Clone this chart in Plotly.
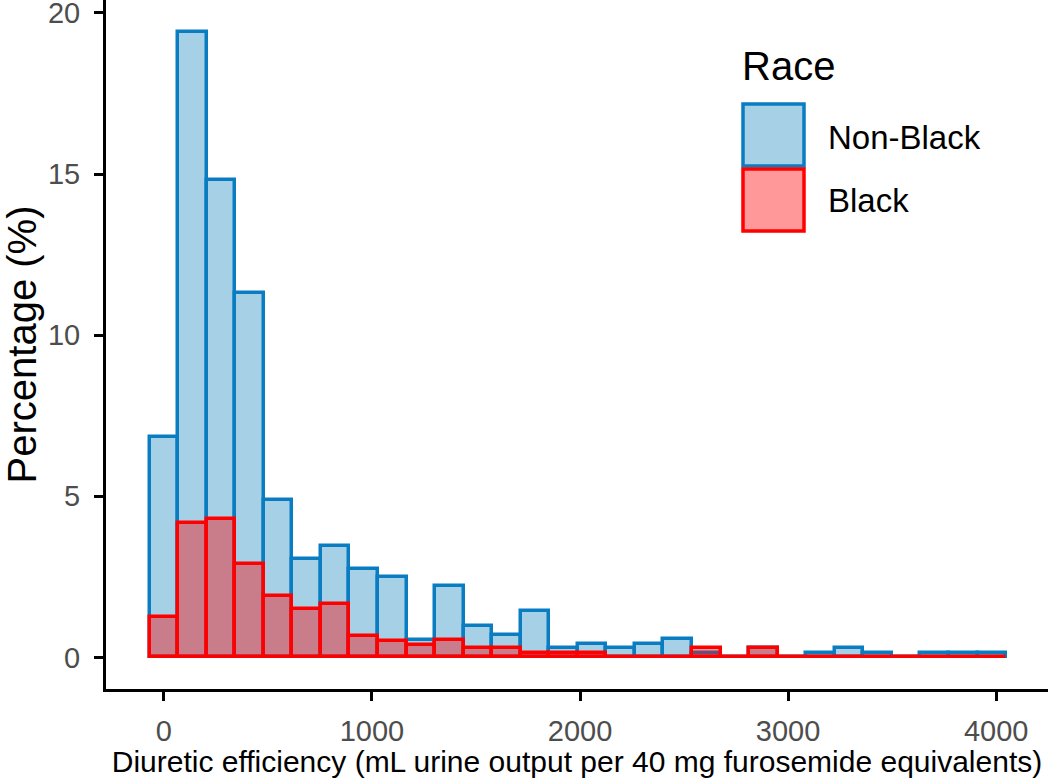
import plotly.graph_objects as go

# ---- data ----
bin_width = 137.2
bin_index = list(range(30))
non_black_pct = [6.83, 19.42, 14.8, 11.3, 4.88, 3.05, 3.47, 2.75, 2.5, 0.55,
                 2.22, 0.99, 0.71, 1.43, 0.29, 0.43, 0.29, 0.43, 0.58, 0.14,
                 0.0, 0.29, 0.0, 0.14, 0.29, 0.14, 0.0, 0.14, 0.14, 0.14]
black_pct = [1.25, 4.16, 4.30, 2.91, 1.91, 1.50, 1.66, 0.67, 0.52, 0.40,
             0.55, 0.29, 0.29, 0.14, 0.14, 0.14, 0.0, 0.0, 0.0, 0.29,
             0.0, 0.29, 0.0, 0.0, 0.0, 0.0, 0.0, 0.0, 0.0, 0.0]
x_ticks = [0, 1000, 2000, 3000, 4000]
y_ticks = [0, 5, 10, 15, 20]
legend_title = "Race"
groups = ["Non-Black", "Black"]

centers = [i * bin_width for i in bin_index]

FONT = "Liberation Sans, Arial, sans-serif"
BLUE_LINE = "#0a7dc2"
BLUE_FILL = "#a6d0e6"
RED_LINE = "#ff0000"
RED_FILL = "rgba(255,0,0,0.4)"
LW = 3.5

fig = go.Figure()
fig.add_trace(go.Bar(x=centers, y=non_black_pct, width=bin_width, name=groups[0],
                     marker=dict(color=BLUE_FILL, line=dict(color=BLUE_LINE, width=LW)),
                     showlegend=False))
fig.add_trace(go.Bar(x=centers, y=black_pct, width=bin_width, name=groups[1],
                     marker=dict(color=RED_FILL, line=dict(color=RED_LINE, width=LW)),
                     showlegend=False))

W, H = 1050, 778
L, R, T, B = 106, 2, 0, 89
pw, ph = W - L - R, H - T - B

def px(xp):
    return (xp - L) / pw

def py(yp):
    return (H - B - yp) / ph

# manual legend (large ggplot-style keys)
shapes = [
    dict(type="rect", xref="paper", yref="paper", x0=px(743), x1=px(804), y0=py(166), y1=py(104),
         fillcolor=BLUE_FILL, line=dict(color=BLUE_LINE, width=LW)),
    dict(type="rect", xref="paper", yref="paper", x0=px(743), x1=px(804), y0=py(231), y1=py(169),
         fillcolor="#ff9999", line=dict(color=RED_LINE, width=LW)),
]
annotations = [
    dict(text=legend_title, xref="paper", yref="paper", x=px(740), y=py(66), xanchor="left",
         yanchor="middle", showarrow=False, font=dict(family=FONT, size=40, color="black")),
    dict(text=groups[0], xref="paper", yref="paper", x=px(826), y=py(137), xanchor="left",
         yanchor="middle", showarrow=False, font=dict(family=FONT, size=33, color="black")),
    dict(text=groups[1], xref="paper", yref="paper", x=px(826), y=py(200), xanchor="left",
         yanchor="middle", showarrow=False, font=dict(family=FONT, size=33, color="black")),
]

fig.update_layout(
    width=W, height=H,
    barmode="overlay", bargap=0,
    plot_bgcolor="white", paper_bgcolor="white",
    margin=dict(l=L, r=R, t=T, b=B, autoexpand=False),
    font=dict(family=FONT),
    shapes=shapes, annotations=annotations,
    xaxis=dict(range=[-278, 4249], tickvals=x_ticks, ticktext=[str(v) for v in x_ticks],
               showgrid=False, zeroline=False, showline=True, linecolor="black", linewidth=3,
               ticks="outside", ticklen=9, tickwidth=3, tickcolor="black",
               tickfont=dict(family=FONT, size=29, color="#4d4d4d"),
               ticklabelstandoff=5,
               title=dict(text="Diuretic efficiency (mL urine output per 40 mg furosemide equivalents)",
                          font=dict(family=FONT, size=30, color="black"), standoff=7),
               automargin=False),
    yaxis=dict(range=[-0.98, 20.4], tickvals=y_ticks, ticktext=[str(v) for v in y_ticks],
               showgrid=False, zeroline=False, showline=True, linecolor="black", linewidth=3,
               ticks="outside", ticklen=9, tickwidth=3, tickcolor="black",
               tickfont=dict(family=FONT, size=29, color="#4d4d4d"),
               ticklabelstandoff=8, ticklabeloverflow="allow",
               title=dict(text="Percentage (%)", font=dict(family=FONT, size=40, color="black"),
                          standoff=6),
               automargin=False),
)

fig.write_html("out.html", config={"displayModeBar": False},
               post_script="document.body.style.margin='0px';")
